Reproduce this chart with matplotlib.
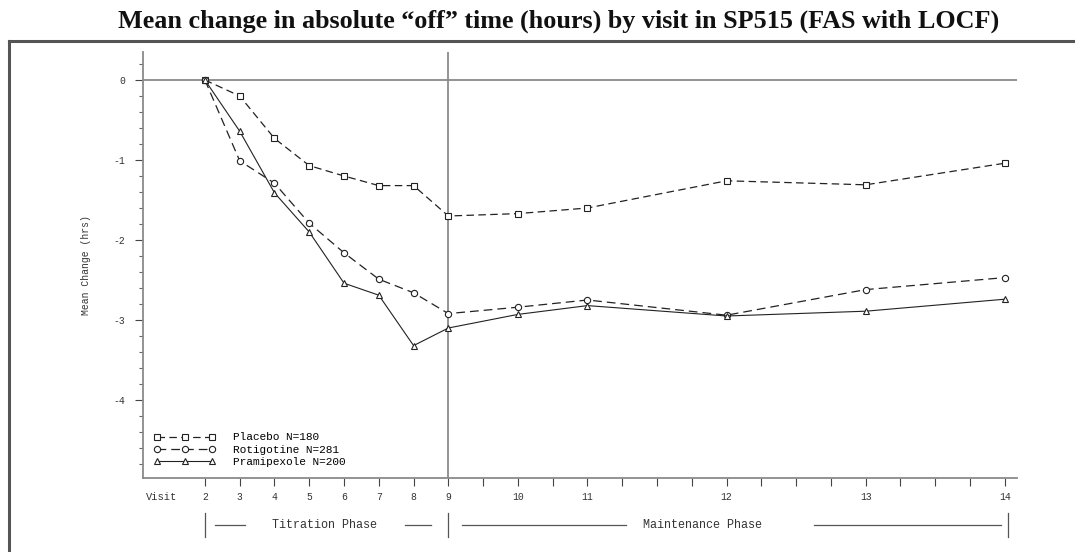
import matplotlib
matplotlib.use('Agg')
import matplotlib.pyplot as plt
from matplotlib.lines import Line2D
import matplotlib.transforms as mtransforms

# Daten: Woche jedes Besuchs (Visit 2 = Woche 0)
visit_weeks = [0, 1, 2, 3, 4, 5, 6, 7, 9, 11, 15, 19, 23]
visit_labels = ['2', '3', '4', '5', '6', '7', '8', '9', '10', '11', '12', '13', '14']

placebo = [0, -0.20, -0.73, -1.07, -1.20, -1.32, -1.32, -1.70, -1.67, -1.60, -1.26, -1.31, -1.04]
rotigotine = [0, -1.01, -1.29, -1.79, -2.16, -2.49, -2.66, -2.92, -2.84, -2.75, -2.94, -2.62, -2.47]
pramipexole = [0, -0.64, -1.41, -1.90, -2.54, -2.69, -3.32, -3.10, -2.93, -2.82, -2.95, -2.89, -2.74]

labels = ['Placebo N=180', 'Rotigotine N=281', 'Pramipexole N=200']
title = 'Mean change in absolute \u201coff\u201d time (hours) by visit in SP515 (FAS with LOCF)'

W, H = 1075, 552
fig = plt.figure(figsize=(W / 100, H / 100), dpi=100)
ax = fig.add_axes([143 / W, 1 - 478 / H, (1017 - 143) / W, (478 - 52) / H])

mono = 'Liberation Mono'
grey = '#8a8a8a'
ink = '#222222'

ax.plot(visit_weeks, placebo, color=ink, lw=0.9, dashes=(6, 3.5), marker='s', ms=4.5,
        mfc='white', mec=ink, mew=0.8, label=labels[0])
ax.plot(visit_weeks, rotigotine, color=ink, lw=0.9, dashes=(7, 4), marker='o', ms=4.5,
        mfc='white', mec=ink, mew=0.8, label=labels[1])
ax.plot(visit_weeks, pramipexole, color=ink, lw=0.8, ls='-', marker='^', ms=4.5,
        mfc='white', mec=ink, mew=0.8, label=labels[2])

ax.axhline(0, color=grey, lw=1.3, zorder=0)
ax.axvline(7, color=grey, lw=1.3, zorder=0)

ax.set_xlim(-1.78, 23.35)
ax.set_ylim(-4.975, 0.35)

for s in ['top', 'right']:
    ax.spines[s].set_visible(False)
for s in ['left', 'bottom']:
    ax.spines[s].set_color(grey)
    ax.spines[s].set_linewidth(1.3)

all_weeks = list(range(0, 24))
ax.set_xticks(all_weeks)
ax.set_xticklabels([visit_labels[visit_weeks.index(w)] if w in visit_weeks else '' for w in all_weeks])
ax.set_yticks([0, -1, -2, -3, -4])
ax.set_yticklabels(['0', '-1', '-2', '-3', '-4'])
ax.set_yticks([v / 5 for v in range(-24, 2)], minor=True)
ax.tick_params(axis='x', direction='out', length=6, width=0.8, color='#444', pad=4,
               labelsize=7, labelcolor='#333')
ax.tick_params(axis='y', which='major', direction='out', length=6, width=0.8, color='#444',
               pad=7, labelsize=7, labelcolor='#333')
ax.tick_params(axis='y', which='minor', direction='out', length=3, width=0.8, color='#666')
for t in ax.get_xticklabels() + ax.get_yticklabels():
    t.set_fontfamily(mono)

ax.set_ylabel('Mean Change (hrs)', fontfamily=mono, fontsize=7, color='#333', labelpad=16)
ax.text(-1.7, -0.045, 'Visit', transform=mtransforms.blended_transform_factory(ax.transData, ax.transAxes),
        fontfamily=mono, fontsize=7.5, color='#333', ha='left', va='center')

ax.legend(loc='lower left', bbox_to_anchor=(0.0, 0.0), numpoints=3, frameon=False, handlelength=5.5,
          handletextpad=1.6, labelspacing=0.2, borderaxespad=0.6,
          prop={'family': mono, 'size': 8})

# Phasen unter der Achse
tr = mtransforms.blended_transform_factory(ax.transData, ax.transAxes)
yp = -0.11
for xv in [0, 7, 23.1]:
    ax.plot([xv, xv], [yp - 0.028, yp + 0.028], color='#555', lw=0.9, transform=tr, clip_on=False)
for x0, x1 in [(0.3, 1.15), (5.75, 6.5), (7.4, 12.1), (17.5, 22.9)]:
    ax.plot([x0, x1], [yp, yp], color='#555', lw=0.9, transform=tr, clip_on=False)
ax.text(3.45, yp, 'Titration Phase', transform=tr, fontfamily=mono, fontsize=8.5,
        color='#333', ha='center', va='center')
ax.text(14.3, yp, 'Maintenance Phase', transform=tr, fontfamily=mono, fontsize=8.5,
        color='#333', ha='center', va='center')

fig.text(559 / W, 1 - 21 / H, title, ha='center', va='center', fontfamily='Liberation Serif',
         fontweight='bold', fontsize=18.8, color='#111')

# Rahmen des Scans
fig.add_artist(Line2D([9 / W, 1], [1 - 41 / H, 1 - 41 / H], color='#555', lw=2.2))
fig.add_artist(Line2D([9 / W, 9 / W], [0, 1 - 41 / H], color='#555', lw=2.2))

fig.savefig('out.png', dpi=100)
